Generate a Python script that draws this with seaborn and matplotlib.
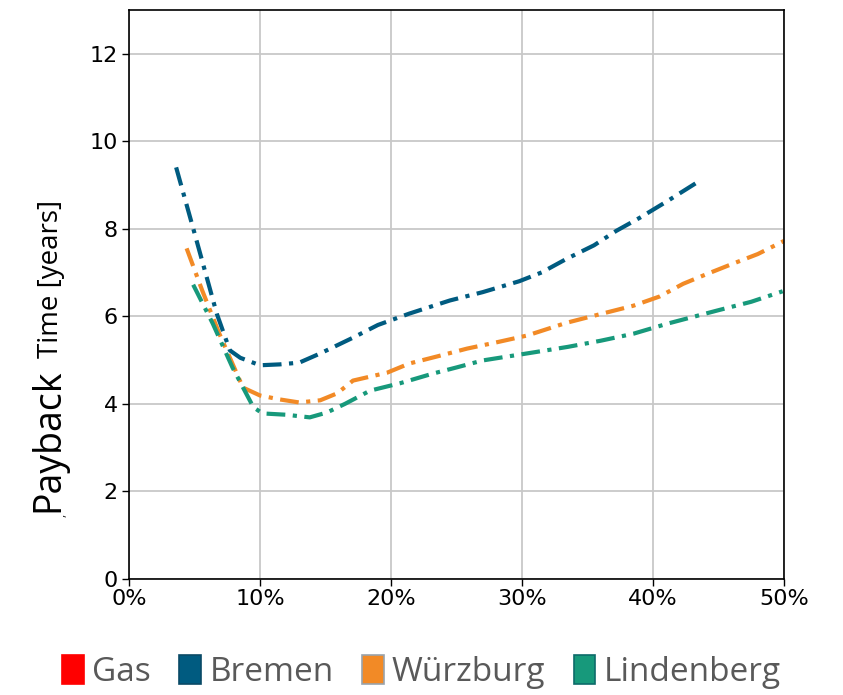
import pandas as pd
import matplotlib.pyplot as plt
import seaborn as sns
from matplotlib.patches import Patch
from matplotlib.ticker import PercentFormatter

# Share (%) vs payback time [years]
bremen_x = [3.6, 5.0, 6.7, 7.7, 8.5, 10.0, 11.5, 13.0, 14.6, 17.1, 19.0, 21.4, 24.5, 27.0, 29.8, 31.5, 33.4, 35.5, 37.2, 39.0, 41.1, 43.6]
bremen_y = [9.4, 7.9, 6.06, 5.22, 5.05, 4.88, 4.9, 4.94, 5.15, 5.51, 5.8, 6.06, 6.36, 6.55, 6.8, 7.0, 7.31, 7.62, 7.95, 8.25, 8.63, 9.1]

wuerzburg_x = [4.4, 5.6, 6.9, 8.7, 10.0, 11.5, 13.0, 14.6, 15.9, 17.1, 19.7, 21.4, 23.5, 25.8, 28.0, 30.4, 33.4, 36.0, 38.5, 40.5, 42.3, 44.0, 46.1, 48.0, 50.0]
wuerzburg_y = [7.55, 6.58, 5.6, 4.37, 4.19, 4.1, 4.03, 4.08, 4.24, 4.53, 4.71, 4.92, 5.08, 5.26, 5.4, 5.56, 5.85, 6.05, 6.24, 6.45, 6.74, 6.95, 7.2, 7.42, 7.72]

lindenberg_x = [4.9, 6.4, 7.9, 9.5, 10.2, 12.0, 13.8, 15.1, 16.5, 18.4, 20.7, 23.2, 25.0, 27.0, 30.8, 33.5, 36.0, 38.5, 41.1, 43.0, 44.9, 47.5, 49.9]
lindenberg_y = [6.72, 5.83, 4.83, 3.92, 3.78, 3.75, 3.69, 3.8, 4.0, 4.3, 4.47, 4.69, 4.83, 4.99, 5.17, 5.3, 5.44, 5.6, 5.83, 5.98, 6.13, 6.33, 6.57]

names = ['Gas', 'Bremen', 'Würzburg', 'Lindenberg']
colors = {'Gas': '#ff0000', 'Bremen': '#005b80', 'Würzburg': '#f28a26', 'Lindenberg': '#17997b'}
edges = {'Gas': '#ff0000', 'Bremen': '#0a4a66', 'Würzburg': '#9aa3ab', 'Lindenberg': '#0d6b6a'}

data = pd.concat([
    pd.DataFrame({'share': bremen_x, 'payback': bremen_y, 'site': 'Bremen'}),
    pd.DataFrame({'share': wuerzburg_x, 'payback': wuerzburg_y, 'site': 'Würzburg'}),
    pd.DataFrame({'share': lindenberg_x, 'payback': lindenberg_y, 'site': 'Lindenberg'}),
])

sns.set_style('whitegrid')
plt.rcParams['font.family'] = ['DejaVu Sans']

fig = plt.figure(figsize=(8.43, 6.95), dpi=100)
ax = fig.add_axes([0.153, 0.167, 0.777, 0.819])

for site in ['Bremen', 'Würzburg', 'Lindenberg']:
    sub = data[data['site'] == site]
    sns.lineplot(data=sub, x='share', y='payback', ax=ax, color=colors[site],
                 linewidth=3.0, sort=False, estimator=None)
    ax.lines[-1].set_dashes((4.5, 1.8, 1.0, 1.8))

ax.set_xlim(0, 50)
ax.set_ylim(0, 13)
ax.set_xticks(range(0, 51, 10))
ax.set_yticks(range(0, 13, 2))
ax.xaxis.set_major_formatter(PercentFormatter(decimals=0))
ax.tick_params(axis='both', labelsize=16, length=5, width=1, color='black',
               labelcolor='black', direction='out', left=True, bottom=True)
ax.tick_params(axis='x', pad=2)
ax.tick_params(axis='y', pad=3)
for lab in ax.get_xticklabels() + ax.get_yticklabels():
    lab.set_family('DejaVu Sans')
ax.set_xlabel('')
ax.set_ylabel('')
ax.grid(True, color='#c8c8c8', linewidth=1.3)
for s in ax.spines.values():
    s.set_color('black')
    s.set_linewidth(1.2)

# y label: "Payback" larger, "Time [years]" smaller
fig.text(0.057, 0.367, 'Payback', rotation=90, fontsize=27, family='Open Sans',
         ha='center', va='center', color='black')
fig.text(0.061, 0.598, 'Time [years]', rotation=90, fontsize=20, family='Open Sans',
         ha='center', va='center', color='black')
fig.text(0.072, 0.258, ',', rotation=90, fontsize=9, family='Open Sans', ha='center', va='center')

handles = [Patch(facecolor=colors[n], edgecolor=edges[n], linewidth=1.2) for n in names]
leg = fig.legend(handles, names, loc='lower center', bbox_to_anchor=(0.5, -0.02), ncol=4,
                 frameon=False, handlelength=0.65, handleheight=1.0,
                 handletextpad=0.25, columnspacing=0.85, borderaxespad=0.2,
                 prop={'family': 'Open Sans', 'size': 24})
for t in leg.get_texts():
    t.set_color('#595959')

fig.savefig('out.png', dpi=100)
